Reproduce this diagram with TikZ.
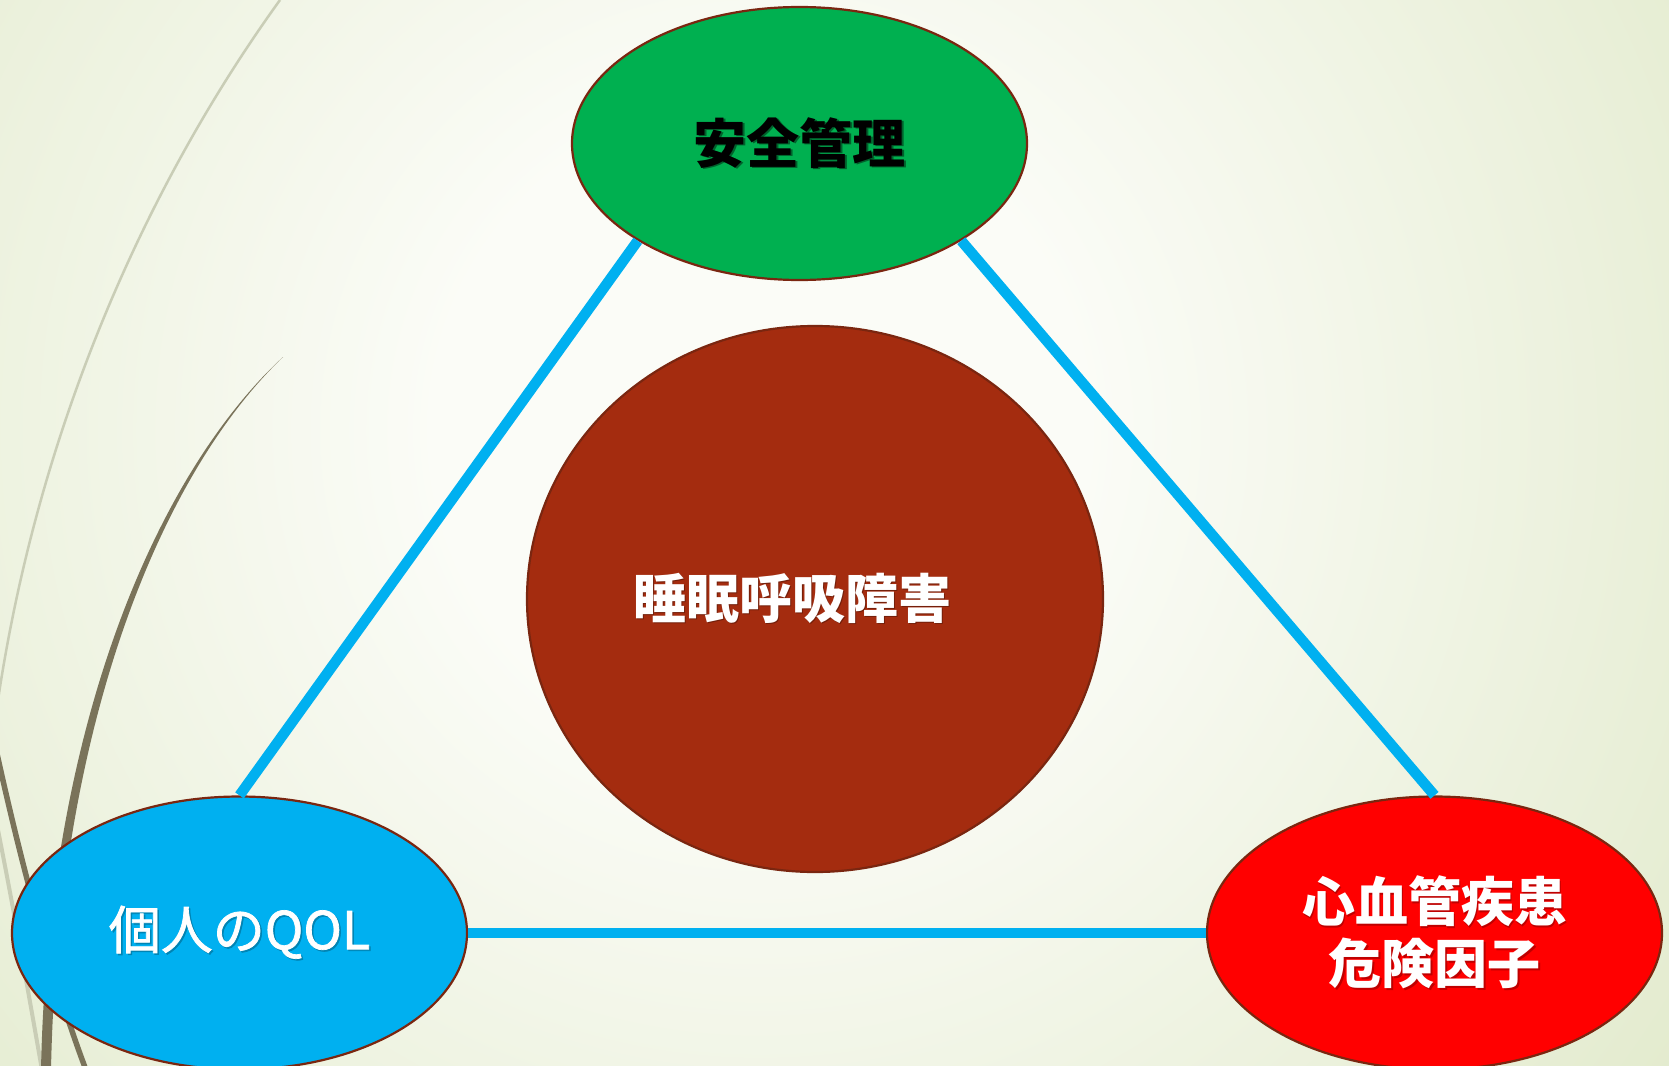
\documentclass[tikz,border=0pt]{standalone}
\usepackage{fontspec}
\newfontfamily\jp{Noto Sans CJK JP}
\newfontfamily\jpmed[FakeBold=1.4]{Noto Sans CJK JP}
\usetikzlibrary{shapes.geometric}
\definecolor{bgin}{HTML}{FBFCF7}
\definecolor{bgout}{HTML}{DCE6C2}
\definecolor{rim}{RGB}{122,38,16}
\definecolor{cgreen}{HTML}{00B050}
\definecolor{cbrown}{HTML}{A42C0F}
\definecolor{cred}{HTML}{FF0000}
\definecolor{cblue}{HTML}{00B0F0}
\definecolor{stem}{HTML}{7A735A}
\definecolor{stemlight}{HTML}{C9CDB6}
\pgfdeclareradialshading{bgshade}{\pgfpoint{0bp}{0bp}}{color(0bp)=(bgin); color(6bp)=(bgin); color(25bp)=(bgout); color(50bp)=(bgout)}
\newcommand\shtxt[2]{\makebox[0pt][l]{\hspace{1.6pt}\raisebox{-1.6pt}{\textcolor{#1}{#2}}}#2}
\begin{document}
\begin{tikzpicture}[x=1pt,y=-1pt,
  blob/.style={ellipse,draw=rim,line width=2.2pt,inner sep=0pt,align=center,
    minimum width=455pt,minimum height=273pt},
  bigfont/.style={font=\jp\fontsize{53}{63}\selectfont\bfseries},
  link/.style={draw=cblue,line width=10.5pt},
  stemdark/.style={fill=stem,draw=none},
  stemthin/.style={draw=stemlight,line width=2.5pt}]
\useasboundingbox (0,0) rectangle (1669,1065);
\clip (0,0) rectangle (1669,1065);
% background
\shade[shading=bgshade] (760,430) circle (1350);
% decorative stems
\draw[stemthin] (280,0) .. controls (150,180) and (40,420) .. (-2,700);
\draw[draw=stemlight,line width=4pt] (-4,820) .. controls (12,900) and (28,990) .. (42,1070);
\fill[stemdark] (283,357) .. controls (160,470) and (48,720) .. (41,1070)
  -- (51,1070) .. controls (58,720) and (163,472) .. (283,357) -- cycle;
\draw[draw=stem,line width=5.5pt] (-6,740) .. controls (20,860) and (52,980) .. (86,1070);
% nodes
\node[blob,fill=cgreen,bigfont,text=black] (safe) at (799.5,143.5) {\shtxt{black!45!cgreen}{安全管理}};
\node[blob,fill=cbrown,bigfont,text=white,minimum width=576pt,minimum height=546pt] (sleep) at (815,599) {\hspace*{-46pt}\shtxt{black!30!cbrown}{睡眠呼吸障害}};
\node[blob,fill=cblue,text=white,font=\jpmed\fontsize{52}{62}\selectfont] (qol) at (239.5,933) {\shtxt{black!25!cblue}{個人のQOL}};
\node[blob,fill=cred,bigfont,text=white] (cvd) at (1434.5,933) {\shtxt{black!25!cred}{心血管疾患}\\[-1pt]\shtxt{black!25!cred}{危険因子}};
% links
\draw[link] (safe.211) -- (qol.north);
\draw[link] (safe.329) -- (cvd.north);
\draw[link] (qol.east) -- (cvd.west);
\end{tikzpicture}
\end{document}
